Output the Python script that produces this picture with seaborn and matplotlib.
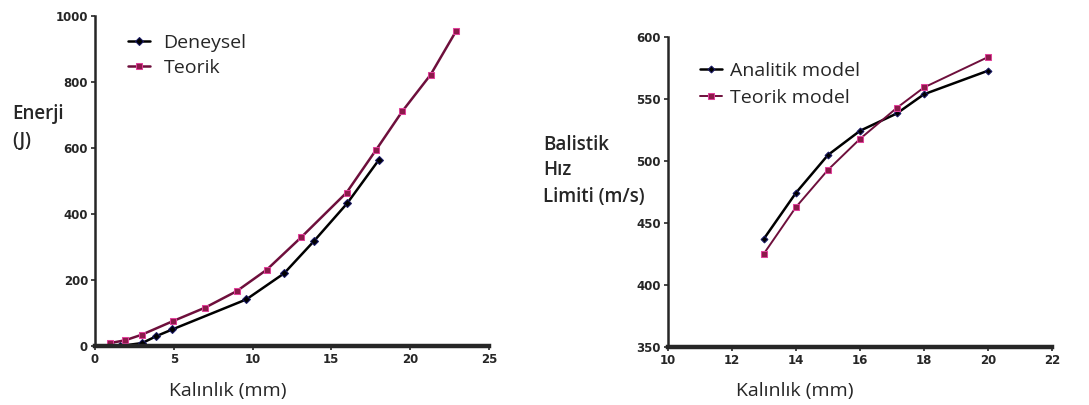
import matplotlib
matplotlib.use("Agg")
import matplotlib.pyplot as plt
import pandas as pd
import seaborn as sns

# left panel: energy vs thickness
deneysel_x = [1, 1.6, 3, 3.9, 4.9, 9.6, 12, 13.9, 16, 18]
deneysel_y = [3, 0, 9, 30, 50, 141, 220, 318, 432, 563]
teorik_x = [0.95, 1.9, 2.96, 4.93, 6.98, 8.99, 10.9, 13.1, 15.97, 17.85, 19.5, 21.3, 22.9]
teorik_y = [9, 17, 34, 75, 116, 166, 231, 330, 465, 595, 711, 822, 953]

# right panel: ballistic limit vs thickness
analitik_x = [13, 14, 15, 16, 17.15, 18, 20]
analitik_y = [437.5, 474.5, 505, 524.5, 538.5, 554, 573]
teorik_model_x = [13, 14, 15, 16, 17.15, 18, 20]
teorik_model_y = [425.5, 463, 493, 518, 543, 559.5, 584]

sns.set_style("ticks")
plt.rcParams["font.family"] = ["Open Sans", "DejaVu Sans"]

LINE_PINK = "#6e0f3c"
FACE_PINK = "#8b1a4a"
EDGE_PINK = "#e0409a"

fig = plt.figure(figsize=(10.89, 4.05), dpi=100)
ax1 = fig.add_axes([0.0872, 0.1457, 0.3618, 0.815])
ax2 = fig.add_axes([0.6134, 0.143, 0.3526, 0.765])

left = pd.DataFrame({"x": deneysel_x, "y": deneysel_y})
left_t = pd.DataFrame({"x": teorik_x, "y": teorik_y})
sns.lineplot(data=left, x="x", y="y", ax=ax1, color="black", lw=1.8, marker="D",
             markersize=4.5, markerfacecolor="black", markeredgecolor="#1a1a66",
             label="Deneysel", sort=False)
sns.lineplot(data=left_t, x="x", y="y", ax=ax1, color=LINE_PINK, lw=1.8, marker="s",
             markersize=4.5, markerfacecolor=FACE_PINK, markeredgecolor=EDGE_PINK,
             label="Teorik", sort=False)

right = pd.DataFrame({"x": analitik_x, "y": analitik_y})
right_t = pd.DataFrame({"x": teorik_model_x, "y": teorik_model_y})
sns.lineplot(data=right, x="x", y="y", ax=ax2, color="black", lw=1.8, marker="D",
             markersize=3.5, markerfacecolor="black", markeredgecolor="#1a1a66",
             label="Analitik model", sort=False)
sns.lineplot(data=right_t, x="x", y="y", ax=ax2, color=LINE_PINK, lw=1.4, marker="s",
             markersize=4, markerfacecolor=FACE_PINK, markeredgecolor=EDGE_PINK,
             label="Teorik model", sort=False)

ax1.set_xlim(0, 25)
ax1.set_ylim(0, 1000)
ax1.set_xticks(range(0, 26, 5))
ax1.set_yticks(range(0, 1001, 200))
ax2.set_xlim(10, 22)
ax2.set_ylim(350, 600)
ax2.set_xticks(range(10, 23, 2))
ax2.set_yticks(range(350, 601, 50))

for ax in (ax1, ax2):
    sns.despine(ax=ax)
    ax.spines["left"].set_linewidth(1.8)
    ax.spines["bottom"].set_linewidth(3.2)
    ax.tick_params(axis="both", length=3, width=1.2, pad=2)
    for lab in ax.get_xticklabels() + ax.get_yticklabels():
        lab.set_fontweight("bold")
        lab.set_fontsize(8.5)
        lab.set_family(["DejaVu Sans"])
    ax.set_xlabel("Kalınlık (mm)", fontsize=14)
    ax.set_ylabel("")

# x labels sit left of the axis centre in the original
ax1.xaxis.set_label_coords(0.338, -0.108)
ax2.xaxis.set_label_coords(0.33, -0.113)

ax1.text(-0.21, 0.703, "Enerji", transform=ax1.transAxes, fontsize=13.5,
         fontweight="semibold", ha="left", va="center")
ax1.text(-0.21, 0.621, "(J)", transform=ax1.transAxes, fontsize=13.5,
         fontweight="semibold", ha="left", va="center")
for frac, line in zip([0.652, 0.571, 0.484], ["Balistik", "Hız", "Limiti (m/s)"]):
    ax2.text(-0.326, frac, line, transform=ax2.transAxes, fontsize=13.5,
             fontweight="semibold", ha="left", va="center")

ax1.legend(loc="upper left", bbox_to_anchor=(0.084, 0.945), frameon=False, fontsize=14,
           borderpad=0, borderaxespad=0, handlelength=1.15, handletextpad=0.67,
           labelspacing=0.35)
ax2.legend(loc="upper left", bbox_to_anchor=(0.083, 0.92), frameon=False, fontsize=14,
           borderpad=0, borderaxespad=0, handlelength=1.15, handletextpad=0.4,
           labelspacing=0.45)

fig.savefig("out.png", dpi=100)
